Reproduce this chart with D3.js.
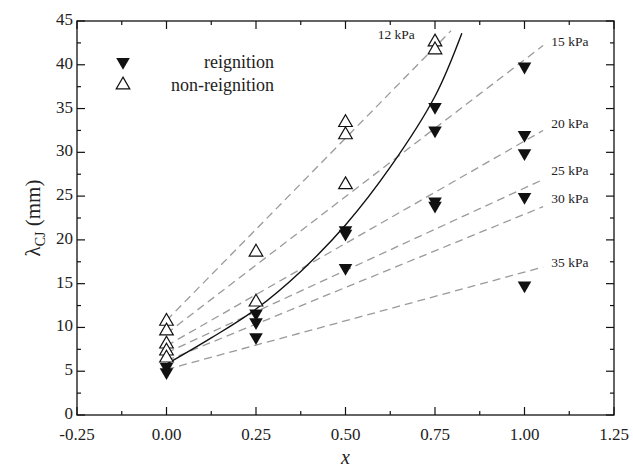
<!DOCTYPE html>
<html><head><meta charset="utf-8">
<script src="https://cdn.jsdelivr.net/npm/d3@7"></script>
<style>body{margin:0;background:#fff}svg{display:block}
text{font-family:"Liberation Serif","Tinos","Nimbus Roman","FreeSerif","DejaVu Serif","Times New Roman",Times,serif}</style>
</head><body>
<script>
// ---- data ----
const xTicks = [-0.25, 0.00, 0.25, 0.50, 0.75, 1.00, 1.25];
const yTicks = [0, 5, 10, 15, 20, 25, 30, 35, 40, 45];
const reignX = [0, 0, 0.25, 0.25, 0.25, 0.5, 0.5, 0.5, 0.75, 0.75, 0.75, 0.75, 1, 1, 1, 1, 1];
const reignY = [5.5, 4.9, 11.6, 10.6, 8.9, 21.1, 20.7, 16.8, 35.2, 32.5, 24.4, 23.9, 39.8, 32.0, 29.9, 24.9, 14.8];
const nonX = [0, 0, 0, 0, 0, 0.25, 0.25, 0.5, 0.5, 0.5, 0.75, 0.75];
const nonY = [10.7, 9.6, 8.1, 7.3, 6.5, 18.6, 12.9, 33.4, 32.0, 26.3, 42.6, 41.7];
const pressLabels = ["12 kPa", "15 kPa", "20 kPa", "25 kPa", "30 kPa", "35 kPa"];
const lineX0 = [0, 0, 0, 0, 0, 0];
const lineY0 = [10.8, 9.3, 7.9, 7.1, 6.2, 5.2];
const lineX1 = [0.795, 1.052, 1.052, 1.052, 1.052, 1.052];
const lineY1 = [43.9, 42.2, 32.5, 26.9, 23.8, 16.9];
const curveX = [0, 0.125, 0.25, 0.375, 0.5, 0.625, 0.75, 0.825];
const curveY = [5.8, 8.8, 12.1, 16.4, 21.7, 28.3, 36.4, 43.6];

const W = 633, H = 471;
const m = {l: 77, r: 19, t: 21, b: 56};
const svg = d3.select("body").append("svg").attr("width", W).attr("height", H);
const x = d3.scaleLinear().domain([-0.25, 1.25]).range([m.l, W - m.r]);
const y = d3.scaleLinear().domain([0, 45]).range([H - m.b, m.t]);

// dashed fit lines
const g = svg.append("g");
pressLabels.forEach((lab, i) => {
  g.append("line")
    .attr("x1", x(lineX0[i])).attr("y1", y(lineY0[i]))
    .attr("x2", x(lineX1[i])).attr("y2", y(lineY1[i]))
    .attr("stroke", "#9a9a9a").attr("stroke-width", 1.3)
    .attr("stroke-dasharray", "8,5");
});
// labels
const labPos = [[0.59, 43.0], [1.075, 42.2], [1.075, 32.8], [1.075, 27.4], [1.075, 24.2], [1.075, 16.9]];
pressLabels.forEach((lab, i) => {
  svg.append("text").attr("x", x(labPos[i][0])).attr("y", y(labPos[i][1]))
    .attr("font-size", 13.5).attr("fill", "#222")
    .text(lab);
});

// solid curve
const pts = curveX.map((d, i) => [d, curveY[i]]);
svg.append("path").datum(pts)
  .attr("d", d3.line().x(d => x(d[0])).y(d => y(d[1])).curve(d3.curveCatmullRom))
  .attr("fill", "none").attr("stroke", "#111").attr("stroke-width", 1.4);

// markers
const tri = d3.symbol().type(d3.symbolTriangle).size(80);
reignX.forEach((d, i) => {
  svg.append("path").attr("d", tri())
    .attr("transform", `translate(${x(d)},${y(reignY[i])}) rotate(180)`)
    .attr("fill", "#111");
});
nonX.forEach((d, i) => {
  svg.append("path").attr("d", tri())
    .attr("transform", `translate(${x(d)},${y(nonY[i])})`)
    .attr("fill", "#fff").attr("stroke", "#111").attr("stroke-width", 1.2);
});

// frame & axes
svg.append("rect").attr("x", m.l).attr("y", m.t)
  .attr("width", W - m.r - m.l).attr("height", H - m.b - m.t)
  .attr("fill", "none").attr("stroke", "#111").attr("stroke-width", 1.3);

const minorX = d3.range(-0.125, 1.25, 0.25);
const minorY = d3.range(2.5, 45, 5);
function ticks(axis, vals, len) {
  vals.forEach(v => {
    if (axis === "x") {
      svg.append("line").attr("x1", x(v)).attr("x2", x(v)).attr("y1", y(0)).attr("y2", y(0) - len).attr("stroke", "#111").attr("stroke-width", 1.2);
      svg.append("line").attr("x1", x(v)).attr("x2", x(v)).attr("y1", y(45)).attr("y2", y(45) + len).attr("stroke", "#111").attr("stroke-width", 1.2);
    } else {
      svg.append("line").attr("y1", y(v)).attr("y2", y(v)).attr("x1", x(-0.25)).attr("x2", x(-0.25) + len).attr("stroke", "#111").attr("stroke-width", 1.2);
      svg.append("line").attr("y1", y(v)).attr("y2", y(v)).attr("x1", x(1.25)).attr("x2", x(1.25) - len).attr("stroke", "#111").attr("stroke-width", 1.2);
    }
  });
}
ticks("x", xTicks, 8); ticks("x", minorX, 4);
ticks("y", yTicks, 8); ticks("y", minorY, 4);

xTicks.forEach(v => {
  svg.append("text").attr("x", x(v)).attr("y", y(0) + 25)
    .attr("text-anchor", "middle").attr("font-size", 17).attr("fill", "#222")
    .text(d3.format(".2f")(v).replace("\u2212", "-"));
});
yTicks.forEach(v => {
  svg.append("text").attr("x", m.l - 4).attr("y", y(v) + 4)
    .attr("text-anchor", "end").attr("font-size", 17).attr("fill", "#222")
    .text(v);
});

// axis titles
svg.append("text").attr("x", x(0.5)).attr("y", 464).attr("text-anchor", "middle")
  .attr("font-size", 20).attr("font-style", "italic").attr("fill", "#222").text("x");
const yt = svg.append("text").attr("transform", `translate(${40},${218}) rotate(-90)`)
  .attr("text-anchor", "middle").attr("font-size", 21).attr("fill", "#222");
yt.append("tspan").text("λ");
yt.append("tspan").attr("font-size", 14).attr("dy", 5).text("CJ");
yt.append("tspan").attr("dy", -5).text(" (mm)");

// legend
svg.append("path").attr("d", tri()).attr("transform", `translate(${123},${62}) rotate(180)`).attr("fill", "#111");
svg.append("path").attr("d", tri()).attr("transform", `translate(${123},${85})`).attr("fill", "#fff").attr("stroke", "#111").attr("stroke-width", 1.2);
svg.append("text").attr("x", 274).attr("y", 68).attr("text-anchor", "end")
  .attr("font-size", 18).attr("fill", "#222").text("reignition");
svg.append("text").attr("x", 274).attr("y", 91).attr("text-anchor", "end")
  .attr("font-size", 18).attr("fill", "#222").text("non-reignition");
</script>
</body></html>
